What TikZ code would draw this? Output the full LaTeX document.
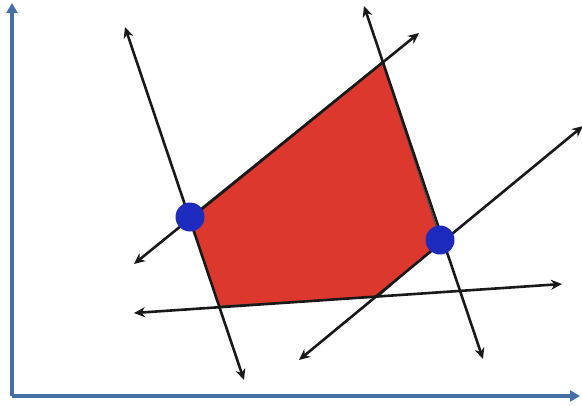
\documentclass[tikz,border=0pt]{standalone}
\usetikzlibrary{arrows.meta}
\definecolor{axisblue}{RGB}{68,112,166}
\definecolor{regionred}{RGB}{220,56,46}
\definecolor{dotblue}{RGB}{28,42,190}
\begin{document}
\begin{tikzpicture}[
  x=1pt,y=-1pt,
  axis/.style={draw=axisblue,line width=4.5pt,-{Triangle[length=10pt,width=11pt]}},
  bound/.style={draw=black!90,line width=2.6pt,{Stealth[length=11pt,width=10pt]}-{Stealth[length=11pt,width=10pt]}},
  region/.style={fill=regionred,draw=black!70,line width=1pt},
  vertex/.style={circle,fill=dotblue,inner sep=0pt,minimum size=29pt}
]
\useasboundingbox (0,0) rectangle (582,405);
% axes
\coordinate (o) at (12,396);
\coordinate (ytop) at (12,3);
\coordinate (xend) at (580,396);
\draw[axis] (o) -- (ytop);
\draw[axis] (o) -- (xend);
% corners of the region
\coordinate (c1) at (190,217);
\coordinate (c2) at (382,62);
\coordinate (c3) at (441,241);
\coordinate (c4) at (378,297);
\coordinate (c5) at (219,306);
\path[region] (c1) -- (c2) -- (c3) -- (c4) -- (c5) -- cycle;
% ends of the bounding lines
\coordinate (a1) at (125,27);   \coordinate (a2) at (244,380);
\coordinate (b1) at (134,264);  \coordinate (b2) at (419,33);
\coordinate (c1e) at (364,6);   \coordinate (c2e) at (483,359);
\coordinate (d1) at (299,360);  \coordinate (d2) at (583,126);
\coordinate (e1) at (134,313);  \coordinate (e2) at (562,284);
\draw[bound] (a1) -- (a2);
\draw[bound] (b1) -- (b2);
\draw[bound] (c1e) -- (c2e);
\draw[bound] (d1) -- (d2);
\draw[bound] (e1) -- (e2);
% optimal corners
\node[vertex] (p1) at (c1) {};
\node[vertex] (p2) at (440,240) {};
\end{tikzpicture}
\end{document}
